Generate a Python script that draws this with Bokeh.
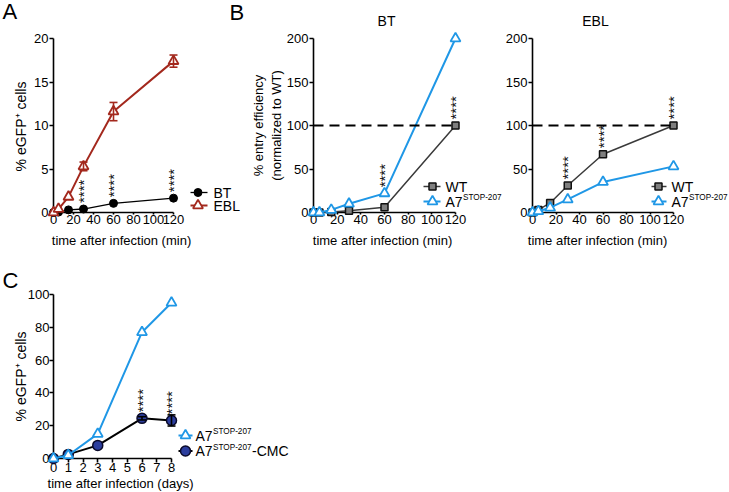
import numpy as np
from bokeh.plotting import figure
from bokeh.models import Range1d, FixedTicker, Span
from bokeh.layouts import row, column
from bokeh.embed import file_html
from bokeh.resources import INLINE
from bokeh.core.properties import value

# ---------------- data ----------------
A_t = [0, 5, 15, 30, 60, 120]
A_BT = [0, 0.05, 0.3, 0.4, 1.05, 1.65]
A_EBL = [0, 0.4, 1.8, 5.3, 11.6, 17.4]
A_EBL_err = [0, 0, 0, 0.5, 1.05, 0.7]
A_star_t = [30, 60, 120]          # stars above BT

B_t = [0, 5, 15, 30, 60, 120]
B_BT_WT = [0, 0, 0.5, 2, 6, 100]
B_BT_A7 = [0, 0, 3, 10, 22, 200]
B_BT_star = [(60, "A7"), (120, "WT")]
B_EBL_WT = [0, 3, 11, 31, 67, 100]
B_EBL_A7 = [0, 1.5, 5.5, 15, 35, 53]
B_EBL_star = [(30, "WT"), (60, "WT"), (120, "WT")]
B_ref = 100

C_t = [0, 1, 3, 6, 8]
C_A7 = [0, 2, 15, 77, 95]
C_CMC = [0, 2.5, 8, 24.5, 23.2]
C_CMC_err = [0, 0, 0, 1.0, 3.4]
C_star_t = [6, 8]                 # stars above CMC

A_xticks = [0, 20, 40, 60, 80, 100, 120]
A_yticks = [0, 5, 10, 15, 20]
B_yticks = [0, 50, 100, 150, 200]
C_xticks = [0, 1, 2, 3, 4, 5, 6, 7, 8]
C_yticks = [0, 20, 40, 60, 80, 100]

# ---------------- style ----------------
FONT = "Liberation Sans"
RED = "#a3281d"
BLUE = "#1f97e6"
GRAY_LINE = "#3a3a3a"
GRAY_FILL = "#7f7f7f"
NAVY = "#2c3e9e"
OV = "overlay"


class Geo:
    """page-pixel -> data converter for annotation placement"""
    def __init__(self, left, xs, x0, top, ys, y1):
        self.left, self.xs, self.x0 = left, xs, x0
        self.top, self.ys, self.y1 = top, ys, y1

    def x(self, px):
        return self.x0 + (px - self.left) / self.xs

    def y(self, py):
        return self.y1 - (py - self.top) / self.ys


def base_fig(xr, yr, fw, fh, bl, br, bt, bb):
    p = figure(x_range=Range1d(*xr), y_range=Range1d(*yr),
               frame_width=fw, frame_height=fh,
               min_border_left=bl, min_border_right=br,
               min_border_top=bt, min_border_bottom=bb,
               output_backend="svg", toolbar_location=None, tools="")
    p.xgrid.visible = False
    p.ygrid.visible = False
    p.outline_line_color = None
    p.background_fill_color = "white"
    p.border_fill_color = "white"
    for ax in p.axis:
        ax.axis_line_color = "black"
        ax.axis_line_width = 1.6
        ax.major_tick_line_color = "black"
        ax.major_tick_line_width = 1.6
        ax.major_tick_in = 0
        ax.minor_tick_line_color = None
        ax.major_label_text_font = FONT
        ax.major_label_text_font_size = "13px"
        ax.major_label_text_color = "black"
        ax.axis_label_text_font = FONT
        ax.axis_label_text_font_size = "13px"
        ax.axis_label_text_font_style = "normal"
        ax.axis_label_text_color = "black"
    return p


def series(p, xs, ys, color, lw, marker, size, fill, mline, mlw):
    p.line(xs, ys, line_color=color, line_width=lw, level=OV)
    p.scatter(xs, ys, marker=marker, size=size, fill_color=fill,
              line_color=mline, line_width=mlw, level=OV)


def errbars(p, xs, ys, errs, color, lw, cap):
    sel = [(x, y, e) for x, y, e in zip(xs, ys, errs) if e > 0]
    ex = [s[0] for s in sel]
    lo = [s[1] - s[2] for s in sel]
    hi = [s[1] + s[2] for s in sel]
    p.segment(ex, lo, ex, hi, line_color=color, line_width=lw, level=OV)
    p.scatter(ex + ex, lo + hi, marker="dash", size=cap, line_color=color,
              line_width=lw, level=OV)


def stars(p, xs, ys):
    p.text(xs, ys, text=["****"] * len(xs), angle=np.pi / 2,
           text_align="left", text_baseline="middle", x_offset=0, y_offset=-6,
           text_font=value(FONT), text_font_size="15px", text_color="#111111", level=OV)


def txt(p, x, y, text, size, align="center", baseline="middle", xo=0, yo=0, angle=0.0):
    p.text([x], [y], text=[text], text_align=align, text_baseline=baseline,
           x_offset=xo, y_offset=yo, angle=angle, text_font=value(FONT),
           text_font_size=size, text_color="black", level=OV)


def leg(p, g, x0px, x1px, xmpx, xtpx, ypx, color, lw, marker, size, fill, mline, mlw,
        label, sup=None, tail=None):
    y = g.y(ypx)
    p.segment([g.x(x0px)], [y], [g.x(x1px)], [y], line_color=color, line_width=lw, level=OV)
    p.scatter([g.x(xmpx)], [y], marker=marker, size=size, fill_color=fill,
              line_color=mline, line_width=mlw, level=OV)
    xt = g.x(xtpx)
    txt(p, xt, y, label, "14px", "left")
    if sup:
        txt(p, xt, y, sup, "8.2px", "left", xo=17.5, yo=-4)
    if tail:
        txt(p, xt, y, tail, "14px", "left", xo=56.5)


# ---------------- panel A ----------------
gA = Geo(53, 1.0, 0, 38, 8.7, 20)
pA = base_fig((0, 191), (0, 20), 191, 174, 53, 0, 38, 38)
pA.xaxis.bounds = (0, 120)
pA.xaxis.ticker = FixedTicker(ticks=A_xticks)
pA.xaxis.major_tick_out = 2
pA.xaxis.major_label_standoff = 0
pA.yaxis.ticker = FixedTicker(ticks=A_yticks)
pA.yaxis.major_tick_out = 4
pA.yaxis.major_label_standoff = 1

series(pA, A_t, A_BT, "black", 1.3, "circle", 8, "black", "black", 1)
series(pA, A_t, A_EBL, RED, 2, "triangle", 10, "white", RED, 1.8)
errbars(pA, A_t, A_EBL, A_EBL_err, RED, 1.6, 8)
stars(pA, A_star_t, [A_BT[A_t.index(t)] for t in A_star_t])
leg(pA, gA, 190, 207, 197.5, 213, 192, "black", 1.3, "circle", 8, "black", "black", 1, "BT")
leg(pA, gA, 190, 207, 197.5, 213, 205, RED, 2, "triangle", 10, "white", RED, 1.8, "EBL")
txt(pA, gA.x(20), gA.y(126), "% eGFP\u207a cells", "14px", angle=np.pi / 2)
txt(pA, gA.x(121), gA.y(232.5), "time after infection (min)", "13px", "center", "top")
txt(pA, gA.x(2), gA.y(11), "A", "22px", "left", "middle")
txt(pA, gA.x(229), gA.y(12), "B", "22px", "left", "middle")

# ---------------- panel B (BT) ----------------
gB1 = Geo(313, 142 / 120, 0, 38, 0.87, 200)
pB1 = base_fig((0, 120), (0, 200), 142, 174, 69, 47, 38, 38)
pB1.xaxis.ticker = FixedTicker(ticks=A_xticks)
pB1.xaxis.major_tick_out = 2
pB1.xaxis.major_label_standoff = 0
pB1.yaxis.ticker = FixedTicker(ticks=B_yticks)
pB1.yaxis.major_tick_out = 4
pB1.yaxis.major_label_standoff = 1
pB1.yaxis.axis_label = "% entry efficiency\n(normalized to WT)"
pB1.yaxis.axis_label_standoff = 0
pB1.add_layout(Span(location=B_ref, dimension="width", line_color="black",
                    line_width=1.8, line_dash="10 6", level=OV))
series(pB1, B_t, B_BT_WT, GRAY_LINE, 1.5, "square", 7, GRAY_FILL, "#111111", 1.5)
series(pB1, B_t, B_BT_A7, BLUE, 2, "triangle", 10, "white", BLUE, 1.8)
sB1 = {"WT": B_BT_WT, "A7": B_BT_A7}
stars(pB1, [t for t, s in B_BT_star], [sB1[s][B_t.index(t)] for t, s in B_BT_star])
leg(pB1, gB1, 423, 440, 432, 445, 186, GRAY_LINE, 1.5, "square", 7, GRAY_FILL, "#111111", 1.5, "WT")
leg(pB1, gB1, 423, 440, 432, 445, 201, BLUE, 2, "triangle", 10, "white", BLUE, 1.8, "A7", "STOP-207")
txt(pB1, gB1.x(386), gB1.y(20.5), "BT", "14px")
txt(pB1, gB1.x(382), gB1.y(232.5), "time after infection (min)", "13px", "center", "top")

# ---------------- panel B (EBL) ----------------
gB2 = Geo(532, 141 / 120, 0, 38, 0.87, 200)
pB2 = base_fig((0, 120), (0, 200), 141, 174, 30, 55, 38, 38)
pB2.xaxis.ticker = FixedTicker(ticks=A_xticks)
pB2.xaxis.major_tick_out = 2
pB2.xaxis.major_label_standoff = 0
pB2.yaxis.ticker = FixedTicker(ticks=B_yticks)
pB2.yaxis.major_tick_out = 4
pB2.yaxis.major_label_standoff = 1
pB2.add_layout(Span(location=B_ref, dimension="width", line_color="black",
                    line_width=1.8, line_dash="10 6", level=OV))
series(pB2, B_t, B_EBL_WT, GRAY_LINE, 1.5, "square", 7, GRAY_FILL, "#111111", 1.5)
series(pB2, B_t, B_EBL_A7, BLUE, 2, "triangle", 10, "white", BLUE, 1.8)
sB2 = {"WT": B_EBL_WT, "A7": B_EBL_A7}
stars(pB2, [t for t, s in B_EBL_star], [sB2[s][B_t.index(t)] for t, s in B_EBL_star])
leg(pB2, gB2, 651, 666, 658, 671, 186, GRAY_LINE, 1.5, "square", 7, GRAY_FILL, "#111111", 1.5, "WT")
leg(pB2, gB2, 651, 666, 658, 671, 201, BLUE, 2, "triangle", 10, "white", BLUE, 1.8, "A7", "STOP-207")
txt(pB2, gB2.x(595), gB2.y(20.5), "EBL", "14px")
txt(pB2, gB2.x(597), gB2.y(232.5), "time after infection (min)", "13px", "center", "top")

# ---------------- panel C ----------------
gC = Geo(53, 118 / 8, 0, 294, 1.64, 100)
pC = base_fig((0, 247 / (118 / 8)), (0, 100), 247, 164, 53, 0, 44, 33)
pC.xaxis.bounds = (0, 8)
pC.xaxis.ticker = FixedTicker(ticks=C_xticks)
pC.xaxis.major_tick_out = 4
pC.xaxis.major_label_standoff = 0
pC.yaxis.ticker = FixedTicker(ticks=C_yticks)
pC.yaxis.major_tick_out = 4
pC.yaxis.major_label_standoff = 0

series(pC, C_t, C_CMC, "black", 2, "circle", 10, NAVY, "#0a0a2a", 1.5)
series(pC, C_t, C_A7, BLUE, 2, "triangle", 10, "white", BLUE, 1.8)
errbars(pC, C_t, C_CMC, C_CMC_err, "black", 1.6, 8)
stars(pC, C_star_t, [C_CMC[C_t.index(t)] for t in C_star_t])
leg(pC, gC, 178, 192, 185, 195, 435, BLUE, 2, "triangle", 10, "white", BLUE, 1.8, "A7", "STOP-207")
leg(pC, gC, 178, 192, 185, 195, 450.5, "black", 2, "circle", 10, NAVY, "#0a0a2a", 1.5, "A7", "STOP-207", "-CMC")
txt(pC, gC.x(20), gC.y(376), "% eGFP\u207a cells", "14px", angle=np.pi / 2)
txt(pC, gC.x(120), gC.y(475.5), "time after infection (days)", "13px", "center", "top")
txt(pC, gC.x(2), gC.y(280), "C", "22px", "left", "middle")

layout = column(row(pA, pB1, pB2), pC)
open("out.html", "w").write(file_html(layout, INLINE))
